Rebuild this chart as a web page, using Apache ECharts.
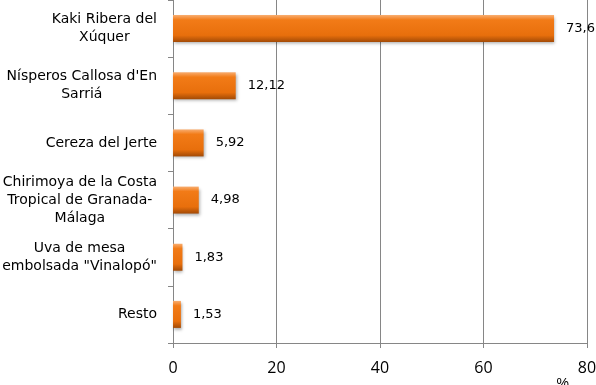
<!DOCTYPE html>
<html>
<head>
<meta charset="utf-8">
<script src="https://cdn.jsdelivr.net/npm/echarts@6/dist/echarts.min.js"></script>
<style>
  html, body { margin: 0; padding: 0; background: #fff; }
  #chart { width: 596px; height: 385px; }
</style>
</head>
<body>
<div id="chart"></div>
<script>
// categories, top to bottom
let categories = [
    'Kaki Ribera del\nXúquer',
    "Nísperos Callosa d'En\nSarriá",
    'Cereza del Jerte',
    'Chirimoya de la Costa\nTropical de Granada-\nMálaga',
    'Uva de mesa\nembolsada "Vinalopó"',
    'Resto'
];
let shares = [73.63, 12.12, 5.92, 4.98, 1.83, 1.53];
let xTicks = [0, 20, 40, 60, 80];

let chart = echarts.init(document.getElementById('chart'));

let labelFont = '"DejaVu Sans", Verdana, sans-serif';

let option = {
    animation: false,
    grid: { left: 173, right: 9, top: 0, bottom: 42, outerBoundsMode: 'none', containLabel: false },
    xAxis: {
        type: 'value',
        min: xTicks[0],
        max: xTicks[xTicks.length - 1],
        interval: xTicks[1] - xTicks[0],
        name: '%',
        nameLocation: 'end',
        nameGap: 0,
        nameTextStyle: {
            color: '#000', fontSize: 14, fontFamily: 'Liberation Sans',
            align: 'right', verticalAlign: 'top', padding: [34, 18, 0, 0]
        },
        axisLine: { show: true, lineStyle: { color: '#868686' } },
        axisTick: { show: true, length: 5, lineStyle: { color: '#868686' } },
        axisLabel: { color: '#000', fontSize: 16, fontFamily: '"Open Sans", sans-serif', margin: 17 },
        splitLine: { show: true, lineStyle: { color: '#868686', width: 1 } }
    },
    yAxis: {
        type: 'category',
        inverse: true,
        data: categories,
        axisLine: { show: true, lineStyle: { color: '#868686' } },
        axisTick: { show: true, length: 5, lineStyle: { color: '#868686' } },
        axisLabel: {
            color: '#000',
            margin: 16,
            align: 'right',
            formatter: (v) => v.split('\n').map((s) => '{c|' + s + '}').join('\n'),
            rich: {
                c: { align: 'center', fontSize: 14, lineHeight: 18, fontFamily: labelFont, color: '#000' }
            }
        }
    },
    series: [
        {
            type: 'bar',
            data: shares,
            barWidth: 27,
            itemStyle: {
                color: new echarts.graphic.LinearGradient(0, 0, 0, 1, [
                    { offset: 0, color: '#f8ad70' },
                    { offset: 0.18, color: '#f27b17' },
                    { offset: 0.75, color: '#e86f0c' },
                    { offset: 1, color: '#a24a06' }
                ]),
                shadowColor: 'rgba(0,0,0,0.3)',
                shadowBlur: 3,
                shadowOffsetX: 1,
                shadowOffsetY: 2
            },
            label: {
                show: true,
                position: 'right',
                distance: 12,
                color: '#000',
                fontSize: 13,
                fontFamily: labelFont,
                formatter: (p) => p.value.toFixed(2).replace('.', ',')
            }
        }
    ]
};

chart.setOption(option);
</script>
</body>
</html>
